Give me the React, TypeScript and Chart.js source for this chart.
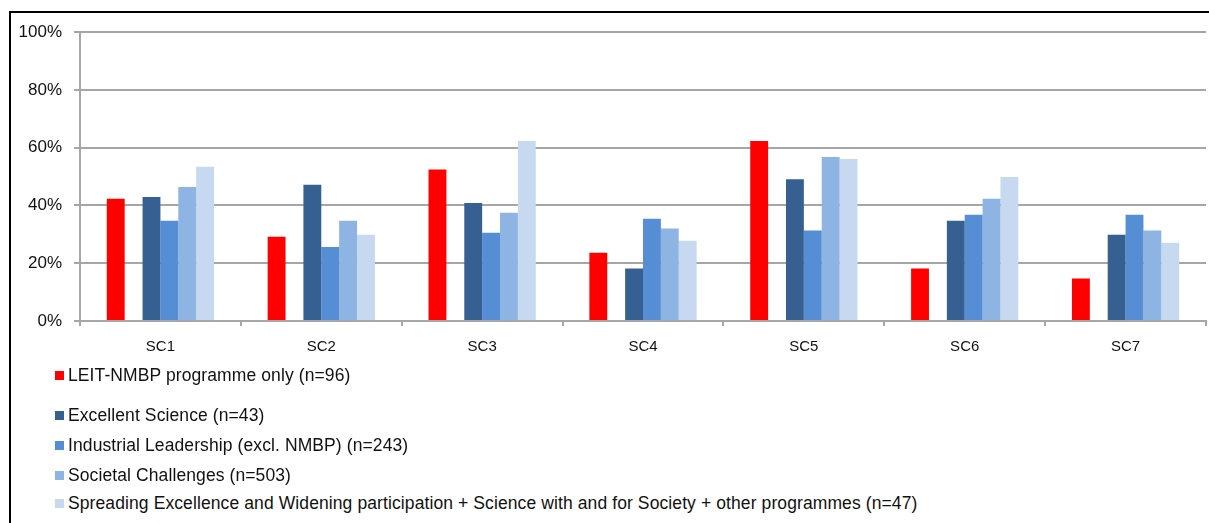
import React, { useEffect, useRef } from "react";
import { Chart, registerables } from "chart.js";

Chart.register(...registerables);

const categories = ["SC1", "SC2", "SC3", "SC4", "SC5", "SC6", "SC7"];
const leitNmbpOnly = [42.3, 29.2, 52.5, 23.6, 62.3, 18.2, 14.7];
const excellentScience = [42.9, 47.2, 40.9, 18.2, 49.1, 34.7, 29.9];
const industrialLeadership = [34.7, 25.6, 30.6, 35.4, 31.3, 36.8, 36.8];
const societalChallenges = [46.4, 34.7, 37.5, 32.0, 56.8, 42.3, 31.3];
const spreadingExcellence = [53.4, 29.9, 62.3, 27.8, 56.1, 49.9, 27.1];
const emptySeries = [null, null, null, null, null, null, null];

const seriesLabels = [
  "LEIT-NMBP programme only (n=96)",
  "",
  "Excellent Science (n=43)",
  "Industrial Leadership (excl. NMBP) (n=243)",
  "Societal Challenges (n=503)",
  "Spreading Excellence and Widening participation + Science with and for Society + other programmes (n=47)",
];
const seriesColors = ["#FF0000", "rgba(0,0,0,0)", "#376092", "#558ED5", "#8EB4E3", "#C6D9F1"];
const seriesValues = [
  leitNmbpOnly,
  emptySeries,
  excellentScience,
  industrialLeadership,
  societalChallenges,
  spreadingExcellence,
];
const yTickValues = [0, 20, 40, 60, 80, 100];

const FONT = "'Liberation Sans', Arial, sans-serif";

export default function App() {
  const canvasRef = useRef<HTMLCanvasElement | null>(null);

  useEffect(() => {
    const canvas = canvasRef.current;
    if (!canvas) return;
    const chart = new Chart(canvas, {
      type: "bar",
      data: {
        labels: categories,
        datasets: seriesValues.map((vals, i) => ({
          label: seriesLabels[i],
          data: vals as any,
          backgroundColor: seriesColors[i],
          borderWidth: 0,
          categoryPercentage: 6 / 9,
          barPercentage: 1,
        })),
      },
      options: {
        animation: false,
        responsive: true,
        maintainAspectRatio: false,
        layout: { padding: { top: 15, right: 3, bottom: 4, left: 0 } },
        plugins: {
          legend: { display: false },
          tooltip: { enabled: false },
        },
        scales: {
          x: {
            grid: {
              display: true,
              drawOnChartArea: false,
              drawTicks: true,
              tickLength: 5,
              color: "#a6a6a6",
              lineWidth: 2,
              offset: true,
            },
            border: { display: true, color: "#a6a6a6", width: 2 },
            ticks: {
              padding: 12,
              color: "#111",
              font: { family: FONT, size: 15 },
            },
          },
          y: {
            min: 0,
            max: 100,
            afterFit: (scale: any) => {
              scale.width = 69;
            },
            afterBuildTicks: (scale: any) => {
              scale.ticks = yTickValues.map((v) => ({ value: v }));
            },
            grid: {
              color: "#a6a6a6",
              lineWidth: 2,
              tickLength: 6,
              drawTicks: true,
            },
            border: { display: true, color: "#a6a6a6", width: 2 },
            ticks: {
              padding: 12,
              color: "#111",
              font: { family: FONT, size: 17 },
              callback: (v: any) => `${v}%`,
            },
          },
        },
      },
    });
    return () => chart.destroy();
  }, []);

  return (
    <div style={{ position: "fixed", left: 0, top: 0, width: 1209, height: 523, background: "#fff", overflow: "hidden" }}>
      <div
        style={{
          position: "absolute",
          left: 9,
          top: 11,
          width: 1200,
          height: 512,
          borderLeft: "2px solid #000",
          borderTop: "2px solid #000",
        }}
      />
      <div style={{ position: "absolute", left: 11, top: 10, width: 1198, height: 362 }}>
        <canvas ref={canvasRef} />
      </div>
      {seriesLabels.map((label, i) => {
        if (!label) return null;
        const rowCenters = [375, 0, 415, 445, 475, 503];
        return (
          <div
            key={i}
            style={{
              position: "absolute",
              left: 55,
              top: rowCenters[i] - 11,
              height: 22,
              display: "flex",
              alignItems: "center",
              whiteSpace: "nowrap",
              fontFamily: FONT,
              fontSize: 17.5,
              letterSpacing: 0.1,
              color: "#111",
            }}
          >
            <span style={{ display: "inline-block", width: 9, height: 9, background: seriesColors[i], marginRight: 4 }} />
            <span>{label}</span>
          </div>
        );
      })}
    </div>
  );
}
